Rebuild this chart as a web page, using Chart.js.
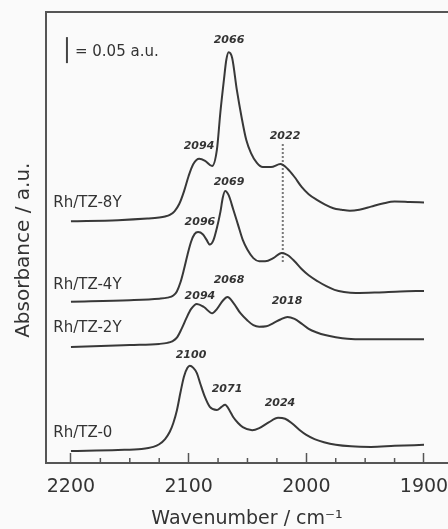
<!DOCTYPE html>
<html>
<head>
<meta charset="utf-8">
<style>
  html, body { margin: 0; padding: 0; background: #fafafa; }
  #wrap { width: 448px; height: 529px; }
</style>
<script src="https://cdn.jsdelivr.net/npm/chart.js@4.4.1/dist/chart.umd.min.js"></script>
</head>
<body>
<div id="wrap"><canvas id="irChart" width="448" height="529"></canvas></div>
<script>
// Spectra (wavenumber in cm-1, absorbance in a.u. incl. vertical offset)
const wn8Y = [2200, 2160, 2135, 2125, 2120, 2116, 2112, 2108, 2104, 2100, 2096, 2091, 2086, 2080, 2076, 2073, 2070, 2068, 2066, 2063, 2059, 2055, 2051, 2047, 2042, 2037, 2030, 2022, 2016, 2010, 2004, 1998, 1991, 1984, 1977, 1970, 1963, 1955, 1945, 1935, 1925, 1912, 1900];
const abs8Y = [0.465, 0.467, 0.470, 0.472, 0.474, 0.477, 0.484, 0.498, 0.522, 0.552, 0.575, 0.585, 0.581, 0.571, 0.602, 0.675, 0.737, 0.775, 0.790, 0.779, 0.717, 0.665, 0.621, 0.596, 0.577, 0.569, 0.569, 0.575, 0.566, 0.550, 0.531, 0.517, 0.506, 0.497, 0.490, 0.487, 0.485, 0.487, 0.493, 0.499, 0.503, 0.502, 0.501];

const wn4Y = [2200, 2150, 2125, 2118, 2113, 2110, 2107, 2104, 2101, 2098, 2095, 2092, 2088, 2085, 2082, 2079, 2076, 2073, 2071, 2069, 2066, 2062, 2058, 2054, 2050, 2045, 2040, 2035, 2028, 2021, 2016, 2010, 2004, 1998, 1990, 1983, 1976, 1968, 1958, 1940, 1920, 1900];
const abs4Y = [0.310, 0.313, 0.316, 0.318, 0.322, 0.330, 0.347, 0.372, 0.400, 0.425, 0.440, 0.444, 0.440, 0.430, 0.420, 0.428, 0.452, 0.483, 0.510, 0.523, 0.515, 0.487, 0.458, 0.429, 0.410, 0.394, 0.388, 0.388, 0.394, 0.404, 0.400, 0.388, 0.373, 0.361, 0.349, 0.340, 0.333, 0.329, 0.327, 0.328, 0.330, 0.331];

const wn2Y = [2200, 2150, 2125, 2118, 2114, 2110, 2106, 2102, 2098, 2093, 2087, 2080, 2076, 2071, 2067, 2062, 2056, 2050, 2045, 2040, 2034, 2028, 2022, 2016, 2010, 2004, 1998, 1991, 1984, 1975, 1965, 1950, 1925, 1900];
const abs2Y = [0.223, 0.227, 0.229, 0.231, 0.234, 0.241, 0.258, 0.278, 0.296, 0.306, 0.300, 0.288, 0.296, 0.312, 0.319, 0.308, 0.288, 0.274, 0.265, 0.262, 0.263, 0.269, 0.276, 0.281, 0.277, 0.268, 0.258, 0.251, 0.246, 0.242, 0.239, 0.238, 0.238, 0.238];

const wn0 = [2200, 2160, 2140, 2130, 2125, 2120, 2116, 2113, 2110, 2107, 2104, 2101, 2099, 2096, 2093, 2090, 2086, 2082, 2076, 2072, 2069, 2065, 2062, 2058, 2054, 2046, 2040, 2032, 2024, 2018, 2012, 2006, 2000, 1993, 1985, 1975, 1962, 1945, 1925, 1900];
const abs0 = [0.023, 0.025, 0.027, 0.031, 0.036, 0.046, 0.060, 0.077, 0.101, 0.135, 0.166, 0.183, 0.187, 0.183, 0.173, 0.152, 0.126, 0.108, 0.102, 0.108, 0.112, 0.100, 0.088, 0.077, 0.069, 0.063, 0.067, 0.078, 0.087, 0.085, 0.076, 0.064, 0.054, 0.046, 0.040, 0.035, 0.032, 0.031, 0.033, 0.035];

const seriesNames = ['Rh/TZ-8Y', 'Rh/TZ-4Y', 'Rh/TZ-2Y', 'Rh/TZ-0'];
const seriesLabelAbs = [0.500, 0.342, 0.260, 0.058];

// x axis ticks
const majorTicks = [2200, 2100, 2000, 1900];
const minorTicks = [2175, 2150, 2125, 2075, 2050, 2025, 1975, 1950, 1925];

// peak annotations
const peakText = ['2066', '2094', '2022', '2069', '2096', '2068', '2094', '2018', '2100', '2071', '2024'];
const peakWn = [2065.7, 2091.2, 2018.1, 2065.7, 2090.4, 2065.7, 2090.4, 2016.4, 2098.0, 2067.4, 2022.4];
const peakAbs = [0.8135, 0.6096, 0.6288, 0.5404, 0.4635, 0.3519, 0.3212, 0.3115, 0.2077, 0.1423, 0.1154];

// 0.05 a.u. scale bar and dotted reference line at 2022
const scaleBarWn = [2203.4, 2203.4];
const scaleBarAbs = [0.769, 0.819];
const refLineWn = [2020, 2020];
const refLineAbs = [0.3865, 0.6154];

const FONT = '"DejaVu Sans", "Liberation Sans", sans-serif';
const INK = '#333';

Chart.defaults.font.family = FONT;
Chart.defaults.color = INK;

const pts = (xs, ys) => xs.map((v, i) => ({ x: v, y: ys[i] }));

function spectrum(label, xs, ys) {
  return {
    label,
    data: pts(xs, ys),
    borderColor: '#383838',
    borderWidth: 2,
    pointRadius: 0,
    cubicInterpolationMode: 'monotone',
    fill: false,
  };
}

const annotate = {
  id: 'annotate',
  afterDatasetsDraw(chart) {
    const { ctx, chartArea, scales: { x, y } } = chart;
    ctx.save();
    // minor ticks, pointing inward
    ctx.strokeStyle = '#555';
    ctx.lineWidth = 1.5;
    minorTicks.forEach((v) => {
      const px = x.getPixelForValue(v);
      ctx.beginPath();
      ctx.moveTo(px, chartArea.bottom);
      ctx.lineTo(px, chartArea.bottom - 5);
      ctx.stroke();
    });
    ctx.fillStyle = INK;
    ctx.textBaseline = 'middle';
    // peak positions
    ctx.textAlign = 'center';
    ctx.font = 'italic bold 11px ' + FONT;
    peakText.forEach((t, i) => {
      ctx.fillText(t, x.getPixelForValue(peakWn[i]), y.getPixelForValue(peakAbs[i]));
    });
    // sample names
    ctx.textAlign = 'left';
    ctx.font = '15px ' + FONT;
    seriesNames.forEach((t, i) => {
      ctx.fillText(t, x.getPixelForValue(2215), y.getPixelForValue(seriesLabelAbs[i]));
    });
    // scale bar caption
    ctx.fillText('= 0.05 a.u.', x.getPixelForValue(2196.6), y.getPixelForValue(0.7904));
    ctx.restore();
  }
};

const bg = {
  id: 'bg',
  beforeDraw(chart) {
    const { ctx, width, height } = chart;
    ctx.save();
    ctx.fillStyle = '#fafafa';
    ctx.fillRect(0, 0, width, height);
    ctx.restore();
  }
};

const X_MIN = 1879.6;
const X_MAX = 2221.2;

new Chart(document.getElementById('irChart'), {
  type: 'line',
  data: {
    datasets: [
      spectrum(seriesNames[0], wn8Y, abs8Y),
      spectrum(seriesNames[1], wn4Y, abs4Y),
      spectrum(seriesNames[2], wn2Y, abs2Y),
      spectrum(seriesNames[3], wn0, abs0),
      {
        label: 'scale',
        data: pts(scaleBarWn, scaleBarAbs),
        borderColor: '#444',
        borderWidth: 2,
        pointRadius: 0,
      },
      {
        label: 'ref',
        data: pts(refLineWn, refLineAbs),
        borderColor: '#777',
        borderWidth: 2,
        borderDash: [2, 2],
        pointRadius: 0,
      },
    ]
  },
  options: {
    responsive: false,
    animation: false,
    layout: { padding: 0 },
    plugins: {
      legend: { display: false },
      tooltip: { enabled: false },
    },
    scales: {
      x: {
        type: 'linear',
        position: 'bottom',
        reverse: true,
        min: X_MIN,
        max: X_MAX,
        afterBuildTicks: (s) => { s.ticks = majorTicks.map((v) => ({ value: v })); },
        afterFit: (s) => { s.height = 66; s.paddingLeft = 0; s.paddingRight = 0; },
        ticks: {
          autoSkip: false,
          maxRotation: 0,
          padding: 23,
          color: INK,
          font: { size: 19 },
          callback: (v) => String(v),
        },
        grid: {
          drawOnChartArea: false,
          drawTicks: true,
          tickLength: -10,
          tickWidth: 1.5,
          tickColor: '#555',
        },
        border: { display: true, color: '#555', width: 2 },
        title: {
          display: true,
          text: 'Wavenumber / cm\u207B\u00B9',
          color: INK,
          font: { size: 19, lineHeight: 1 },
          padding: { top: 0, bottom: 0 },
        },
      },
      xTop: {
        type: 'linear',
        position: 'top',
        reverse: true,
        min: X_MIN,
        max: X_MAX,
        afterFit: (s) => { s.height = 12; s.paddingLeft = 0; s.paddingRight = 0; },
        ticks: { display: false },
        grid: { drawOnChartArea: false, drawTicks: false },
        border: { display: true, color: '#555', width: 2 },
      },
      y: {
        position: 'left',
        min: 0,
        max: 0.8673,
        afterFit: (s) => { s.width = 46; },
        ticks: { display: false },
        grid: { drawOnChartArea: false, drawTicks: false },
        border: { display: true, color: '#555', width: 2 },
        title: {
          display: true,
          text: 'Absorbance / a.u.    ',
          color: INK,
          font: { size: 20, lineHeight: 1 },
          padding: { top: 14, bottom: 0 },
        },
      },
    },
  },
  plugins: [bg, annotate],
});
</script>
</body>
</html>
